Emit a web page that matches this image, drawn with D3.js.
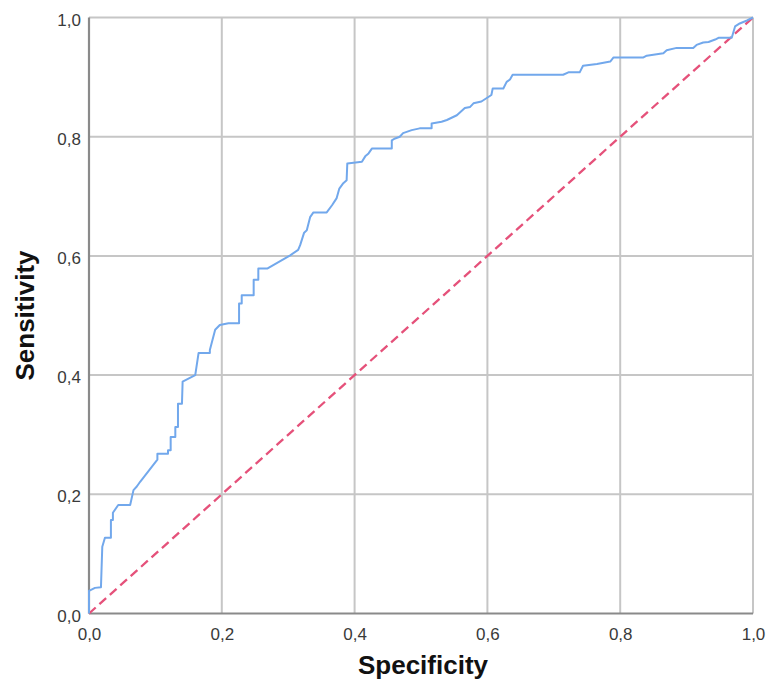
<!DOCTYPE html>
<html><head><meta charset="utf-8">
<script src="https://cdn.jsdelivr.net/npm/d3@7"></script>
<style>
html,body{margin:0;padding:0;background:#fff;}
svg text{font-family:"Liberation Sans",Arial,sans-serif;}
</style></head>
<body>
<svg id="chart" width="766" height="681"></svg>
<script>
const ticks = [0, 0.2, 0.4, 0.6, 0.8, 1.0];
const tickLabels = ["0,0", "0,2", "0,4", "0,6", "0,8", "1,0"];
const xTitle = "Specificity";
const yTitle = "Sensitivity";
// ROC curve points (x = 1 - specificity axis, y = sensitivity)
const rocX = [0,0,0.009,0.018,0.020,0.024,0.033,0.033,0.036,0.036,0.044,0.062,0.067,0.072,0.077,0.103,0.103,0.119,0.119,0.123,0.123,0.130,0.130,0.134,0.134,0.140,0.141,0.160,0.165,0.182,0.182,0.190,0.197,0.210,0.226,0.226,0.230,0.230,0.248,0.248,0.255,0.255,0.269,0.303,0.315,0.318,0.324,0.328,0.333,0.338,0.358,0.366,0.373,0.377,0.383,0.388,0.389,0.411,0.416,0.421,0.426,0.456,0.456,0.461,0.468,0.473,0.486,0.498,0.516,0.516,0.531,0.539,0.554,0.566,0.574,0.579,0.591,0.606,0.608,0.624,0.629,0.634,0.638,0.714,0.722,0.739,0.744,0.765,0.785,0.790,0.835,0.840,0.865,0.870,0.885,0.910,0.915,0.925,0.933,0.943,0.948,0.968,0.973,0.980,0.991,1];
const rocY = [0,0.038,0.043,0.044,0.112,0.127,0.127,0.157,0.157,0.169,0.182,0.182,0.207,0.213,0.221,0.258,0.268,0.268,0.274,0.274,0.296,0.296,0.313,0.313,0.352,0.352,0.389,0.400,0.437,0.437,0.442,0.476,0.484,0.487,0.487,0.520,0.520,0.534,0.534,0.560,0.560,0.579,0.579,0.601,0.610,0.618,0.639,0.643,0.665,0.673,0.673,0.685,0.697,0.713,0.722,0.727,0.755,0.758,0.767,0.772,0.780,0.780,0.794,0.797,0.800,0.806,0.811,0.814,0.814,0.822,0.825,0.828,0.836,0.848,0.850,0.856,0.859,0.870,0.881,0.881,0.892,0.896,0.904,0.904,0.908,0.908,0.919,0.922,0.926,0.933,0.933,0.936,0.940,0.945,0.949,0.949,0.954,0.958,0.959,0.963,0.966,0.966,0.985,0.990,0.995,1];
const refX = [0, 1];
const refY = [0, 1];

const svg = d3.select("#chart");
const pLeft = 89, pRight = 753, pTop = 17.5, pBottom = 613.5;
const x = d3.scaleLinear().domain([0, 1]).range([pLeft, pRight]);
const y = d3.scaleLinear().domain([0, 1]).range([pBottom, pTop]);

// grid
svg.append("g").selectAll("line").data(ticks.slice(1)).join("line")
  .attr("x1", d => x(d)).attr("x2", d => x(d)).attr("y1", pTop).attr("y2", pBottom)
  .attr("stroke", "#c6c6c6").attr("stroke-width", 2);
svg.append("g").selectAll("line").data(ticks.slice(1)).join("line")
  .attr("x1", pLeft).attr("x2", pRight).attr("y1", d => y(d)).attr("y2", d => y(d))
  .attr("stroke", "#c6c6c6").attr("stroke-width", 2);

// axes
const xAxis = d3.axisBottom(x).tickValues(ticks).tickFormat((d, i) => tickLabels[i]).tickSize(0).tickPadding(14);
const yAxis = d3.axisLeft(y).tickValues(ticks).tickFormat((d, i) => tickLabels[i]).tickSize(0).tickPadding(8);
const gx = svg.append("g").attr("transform", `translate(0,${pBottom})`).call(xAxis);
const gy = svg.append("g").attr("transform", `translate(${pLeft},0)`).call(yAxis);
[gx, gy].forEach(g => {
  g.select(".domain").remove();
  g.selectAll("text").attr("font-size", 17).attr("fill", "#3a3a3a")
    .style("font-family", "'Liberation Sans', Arial, sans-serif");
});
gy.selectAll("text").attr("dy", "0.45em");

// axis lines
svg.append("line").attr("x1", pLeft).attr("x2", pLeft).attr("y1", pTop).attr("y2", pBottom)
  .attr("stroke", "#8a8a8a").attr("stroke-width", 2.2);
svg.append("line").attr("x1", pLeft).attr("x2", pRight).attr("y1", pBottom).attr("y2", pBottom)
  .attr("stroke", "#8a8a8a").attr("stroke-width", 2.2);

// reference diagonal
const line = d3.line().x(d => x(d[0])).y(d => y(d[1]));
svg.append("path").datum(refX.map((v, i) => [v, refY[i]]))
  .attr("d", line).attr("fill", "none").attr("stroke", "#e5517a")
  .attr("stroke-width", 2.3).attr("stroke-dasharray", "9,5");

// ROC curve
svg.append("path").datum(rocX.map((v, i) => [v, rocY[i]]))
  .attr("d", line).attr("fill", "none").attr("stroke", "#72a8ec")
  .attr("stroke-width", 2).attr("stroke-linejoin", "round");

// titles
svg.append("text").attr("x", 423).attr("y", 674)
  .attr("text-anchor", "middle").attr("font-size", 26).attr("font-weight", "bold")
  .attr("fill", "#111").text(xTitle);
svg.append("text").attr("transform", `translate(33.5,315.5) rotate(-90)`)
  .attr("text-anchor", "middle").attr("font-size", 26).attr("font-weight", "bold")
  .attr("fill", "#111").text(yTitle);
</script>
</body></html>
